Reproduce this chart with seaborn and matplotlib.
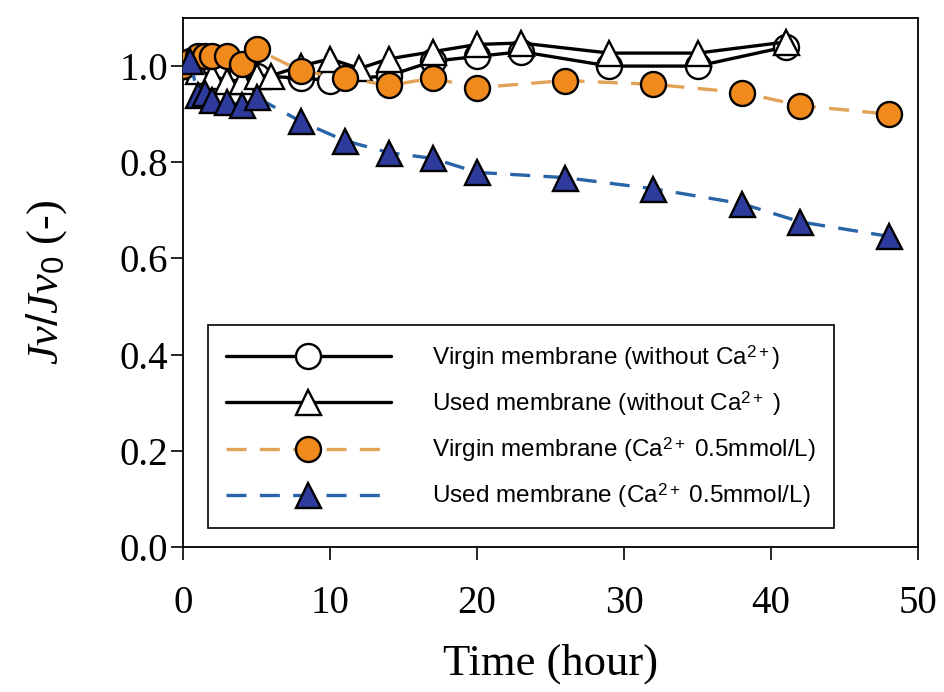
import numpy as np
import pandas as pd
import matplotlib
matplotlib.use("Agg")
import matplotlib.pyplot as plt
import seaborn as sns

# Data (time in hours, Jv/Jv0)
t_virgin = [0, 1, 2, 3, 4, 5, 8, 10, 14, 17, 20, 23, 29, 35, 41]
jv_virgin = [1.0, 1.0, 0.99, 0.99, 0.985, 0.98, 0.975, 0.97, 0.98, 1.01, 1.02, 1.03, 1.0, 1.0, 1.04]

t_used = [0, 1, 2, 3, 4, 5, 6, 8, 10, 12, 14, 17, 20, 23, 29, 35, 41]
jv_used = [1.0, 0.99, 0.98, 0.97, 0.97, 0.98, 0.98, 1.0, 1.015, 0.995, 1.015, 1.03, 1.045, 1.048, 1.027, 1.027, 1.05]

t_virgin_ca = [0, 0.5, 1, 1.5, 2, 3, 4, 5, 8, 11, 14, 17, 20, 26, 32, 38, 42, 48]
jv_virgin_ca = [1.0, 1.01, 1.02, 1.02, 1.02, 1.02, 1.005, 1.035, 0.99, 0.975, 0.96, 0.975, 0.955, 0.97, 0.962, 0.945, 0.918, 0.9]

t_used_ca = [0.5, 1, 1.5, 2, 3, 4, 5, 8, 11, 14, 17, 20, 26, 32, 38, 42, 48]
jv_used_ca = [1.01, 0.94, 0.945, 0.93, 0.925, 0.92, 0.935, 0.885, 0.845, 0.82, 0.808, 0.779, 0.768, 0.745, 0.714, 0.676, 0.646]

labels = [
    "Virgin membrane (without Ca$^{2+}$)",
    "Used membrane (without Ca$^{2+}$ )",
    "Virgin membrane (Ca$^{2+}$ 0.5mmol/L)",
    "Used membrane (Ca$^{2+}$ 0.5mmol/L)",
]

sns.set_style("ticks")
plt.rcParams["font.family"] = ["Liberation Serif", "DejaVu Serif"]
plt.rcParams["mathtext.fontset"] = "custom"
plt.rcParams["mathtext.rm"] = "Liberation Sans"
plt.rcParams["mathtext.it"] = "Liberation Serif:italic"
plt.rcParams["mathtext.bf"] = "Liberation Sans:bold"
for key in ["text.color", "axes.labelcolor", "xtick.color", "ytick.color"]:
    plt.rcParams[key] = "black"

fig = plt.figure(figsize=(9.44, 6.92), dpi=100)
ax = fig.add_axes([0.1939, 0.2095, 0.7786, 0.7645])

orange = "#F18A1C"
orange_line = "#E2A257"
blue = "#2E3A9C"
blue_line = "#2A64A8"
ms = 18

sns.lineplot(x=t_virgin, y=jv_virgin, ax=ax, color="black", lw=2.4,
             marker="o", ms=ms, mfc="white", mec="black", mew=1.7,
             label=labels[0], zorder=2)
sns.lineplot(x=t_used, y=jv_used, ax=ax, color="black", lw=2.4,
             marker="^", ms=ms, mfc="white", mec="black", mew=1.7,
             label=labels[1], zorder=3)
sns.lineplot(x=t_virgin_ca, y=jv_virgin_ca, ax=ax, color=orange_line, lw=2.4,
             marker="o", ms=ms, mfc=orange, mec="black", mew=1.7,
             label=labels[2], zorder=4)
ax.lines[-1].set_dashes([6, 4])
sns.lineplot(x=t_used_ca, y=jv_used_ca, ax=ax, color=blue_line, lw=2.4,
             marker="^", ms=ms, mfc=blue, mec="black", mew=1.7,
             label=labels[3], zorder=5)
ax.lines[-1].set_dashes([6, 4])

ax.set_xlim(0, 50)
ax.set_ylim(0, 1.1)
ax.set_xticks(np.arange(0, 51, 10))
ax.set_yticks(np.arange(0, 1.01, 0.2))
ax.set_yticklabels([f"{v:.1f}" for v in np.arange(0, 1.01, 0.2)])
ax.tick_params(axis="both", direction="out", length=9, width=1.2, labelsize=28)
ax.tick_params(axis="x", pad=18)
ax.tick_params(axis="y", pad=2)
for s in ax.spines.values():
    s.set_linewidth(1.3)
    s.set_color("black")

ax.set_xlabel("Time (hour)", fontsize=32, labelpad=16)
ax.set_ylabel(r"$\mathit{Jv/Jv}_{\mathit{0}}$ (-)", fontsize=32, labelpad=36)

leg = ax.legend(loc="lower left", bbox_to_anchor=(0.034, 0.036),
                prop={"family": "Liberation Sans", "size": 17.5},
                handlelength=6.8, handletextpad=1.7, borderpad=0.72,
                labelspacing=0.72, frameon=True, fancybox=False,
                framealpha=1, edgecolor="black", numpoints=1,
                borderaxespad=0)
leg.get_frame().set_linewidth(1.2)

fig.savefig("out.png", dpi=100)
